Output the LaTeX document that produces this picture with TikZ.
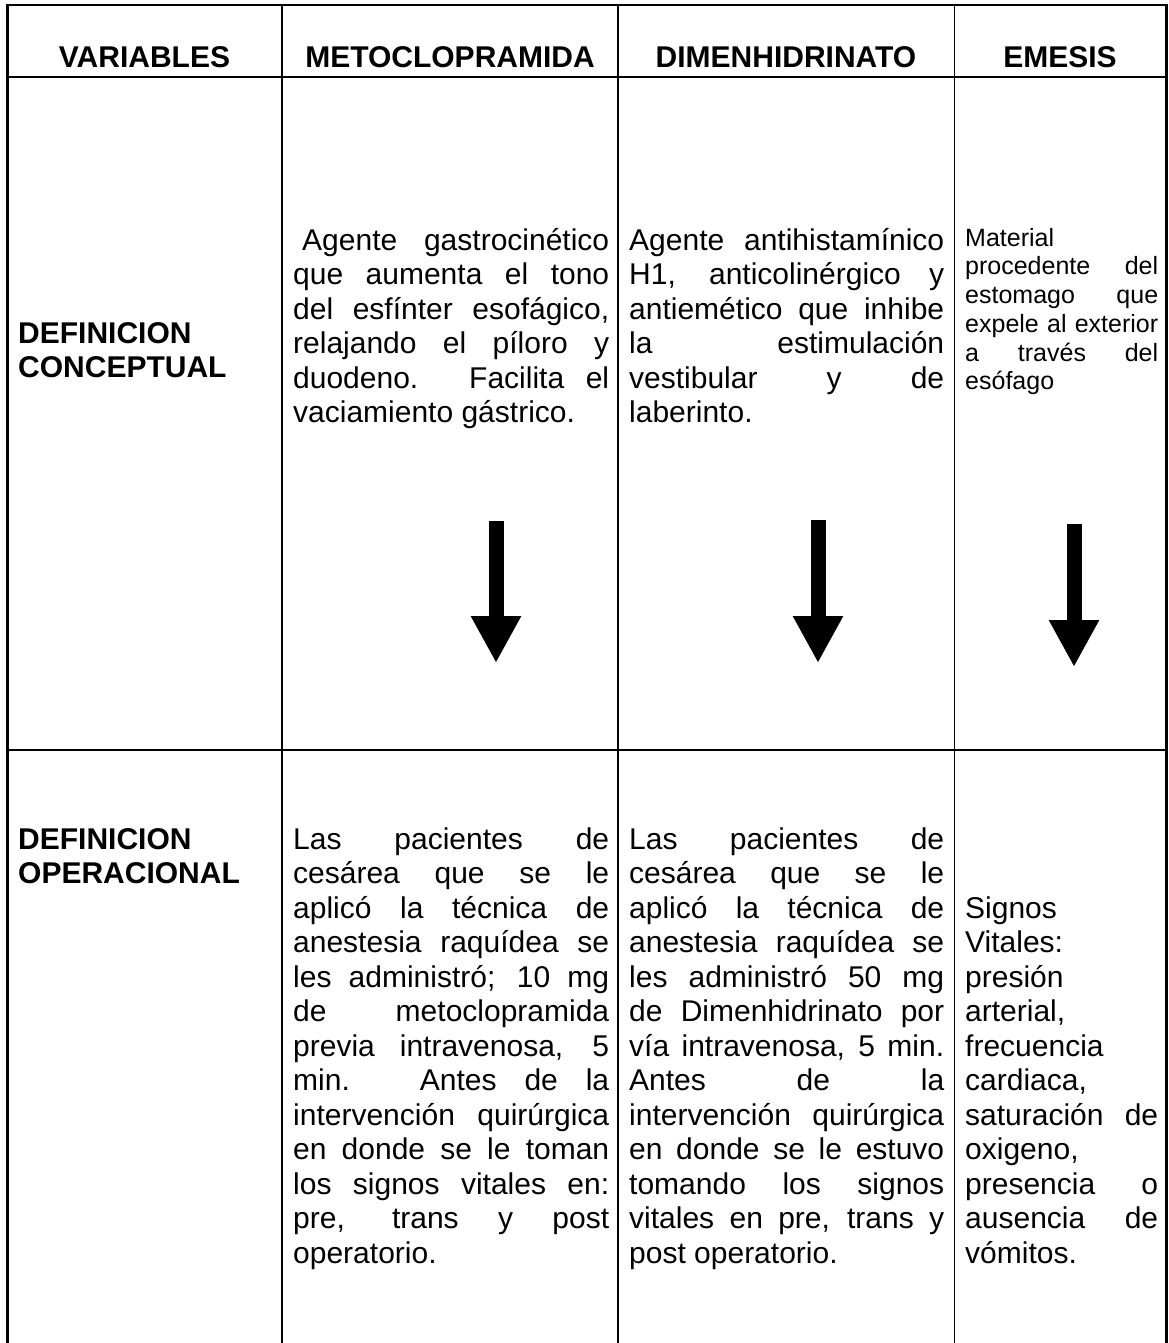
\documentclass[tikz,border=0pt]{standalone}
\usepackage{fontspec}
\setmainfont{Liberation Sans}
\usetikzlibrary{arrows.meta}
% style, name, x, first baseline, spacing, width, list of lines
\newcommand\celllines[7]{%
  \foreach \lineText [count=\i from 0] in {#7}{%
    \node[#1,anchor=base west] (#2-\i) at ({#3},{#4+\i*#5}) {\makebox[#6][s]{\lineText}};%
  }%
}
\begin{document}
\begin{tikzpicture}[x=1pt,y=-1pt,
  big/.style={font=\fontsize{30}{34.5}\selectfont, inner sep=0pt},
  small/.style={font=\fontsize{25}{28.75}\selectfont, inner sep=0pt},
  head/.style={font=\bfseries\fontsize{30}{34.5}\selectfont, inner sep=0pt, anchor=base},
  rowlab/.style={font=\bfseries\fontsize{30}{34.5}\selectfont, inner sep=0pt, anchor=base west},
  frameline/.style={line width=2.2pt},
  innerline/.style={line width=1.6pt},
  blockarrow/.style={line width=15pt, -{Triangle[width=47pt,length=47pt]}}]
\useasboundingbox (0,0) rectangle (1169,1343);
\fill[white] (0,0) rectangle (1169,1343);

% table grid
\draw[frameline] (7.5,1343) -- (7.5,5) -- (1166.5,5) -- (1166.5,1343);
\draw[frameline] (7.5,77) -- (1166.5,77);
\draw[frameline] (7.5,750) -- (1166.5,750);
\draw[innerline] (282,5) -- (282,1343);
\draw[innerline] (618,5) -- (618,1343);
\draw[innerline] (954.5,5) -- (954.5,1343);

% header
\node[head] (hVar) at (144.5,68) {VARIABLES};
\node[head] (hMet) at (450,68) {METOCLOPRAMIDA};
\node[head] (hDim) at (786,68) {DIMENHIDRINATO};
\node[head] (hEme) at (1060,68) {EMESIS};

% row labels
\node[rowlab] (dc1) at (18,343) {DEFINICION};
\node[rowlab] (dc2) at (18,377.5) {CONCEPTUAL};
\node[rowlab] (do1) at (18,849) {DEFINICION};
\node[rowlab] (do2) at (18,883.5) {OPERACIONAL};

% row 2 texts
\celllines{big}{cmet}{293}{250}{34.5}{316pt}{\hspace{9pt}Agente gastrocinético, que aumenta el tono, {del esfínter esofágico,}, relajando el píloro y, duodeno. Facilita el, vaciamiento gástrico.\hfill}
\celllines{big}{cdim}{629}{250}{34.5}{315pt}{Agente antihistamínico, {H1, anticolinérgico y}, antiemético que inhibe, la estimulación, vestibular y de, laberinto.\hfill}
\celllines{small}{ceme}{965}{246}{28.75}{193pt}{Material\hfill, procedente del, estomago que, expele al exterior, a través del, esófago\hfill}

% arrows
\coordinate (a1s) at (496,521);  \coordinate (a1e) at (496,663);
\coordinate (a2s) at (818,520);  \coordinate (a2e) at (818,663);
\coordinate (a3s) at (1074,524); \coordinate (a3e) at (1074,667);
\draw[blockarrow] (a1s) -- (a1e);
\draw[blockarrow] (a2s) -- (a2e);
\draw[blockarrow] (a3s) -- (a3e);

% row 3 texts
\celllines{big}{omet}{293}{849}{34.5}{316pt}{Las pacientes de, cesárea que se le, aplicó la técnica de, anestesia raquídea se, les administró; 10 mg, de metoclopramida, {previa intravenosa, 5}, min. Antes de la, intervención quirúrgica, en donde se le toman, los signos vitales en:, {pre, trans y post}, operatorio.\hfill}
\celllines{big}{odim}{629}{849}{34.5}{315pt}{Las pacientes de, cesárea que se le, aplicó la técnica de, anestesia raquídea se, les administró 50 mg, de Dimenhidrinato por, {vía intravenosa, 5 min.}, Antes de la, intervención quirúrgica, en donde se le estuvo, tomando los signos, {vitales en pre, trans y}, post operatorio.\hfill}
\celllines{big}{oeme}{965}{918}{34.5}{193pt}{Signos\hfill, Vitales:\hfill, presión\hfill, {arterial,\hfill}, frecuencia\hfill, {cardiaca,\hfill}, saturación de, {oxigeno,\hfill}, presencia o, ausencia de, vómitos.\hfill}
\end{tikzpicture}
\end{document}
